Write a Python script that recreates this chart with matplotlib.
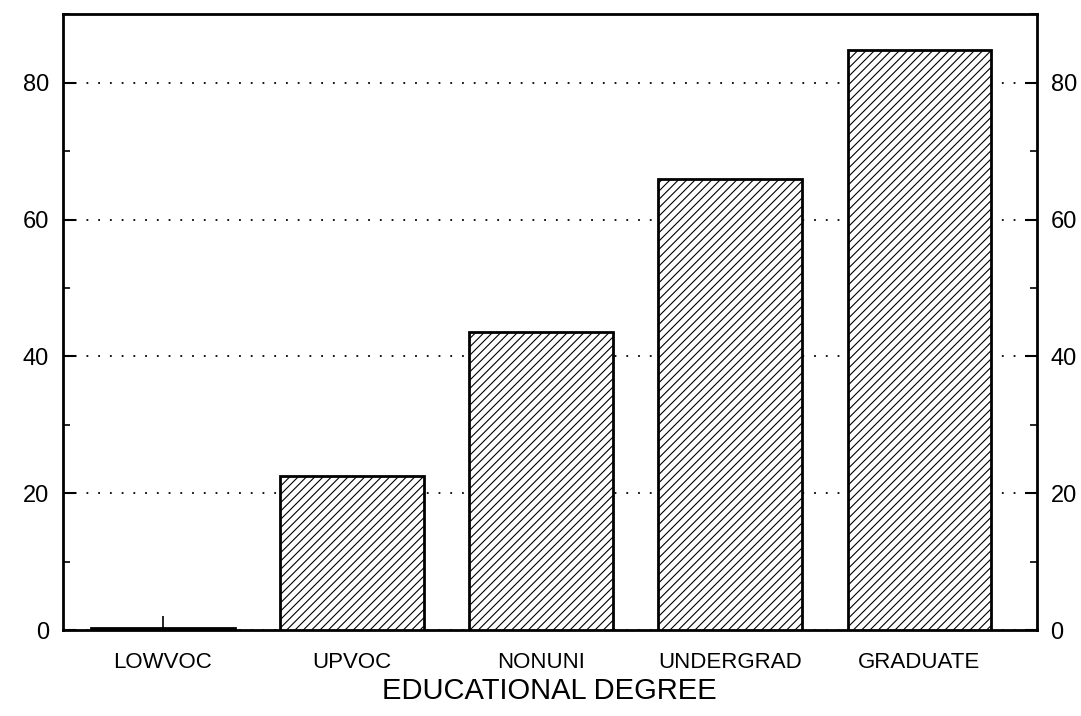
import numpy as np
import matplotlib.pyplot as plt
from matplotlib.ticker import MultipleLocator

categories = ["LOWVOC", "UPVOC", "NONUNI", "UNDERGRAD", "GRADUATE"]
values = [0.3, 22.5, 43.5, 66.0, 84.8]
yticks = [0, 20, 40, 60, 80]

plt.rcParams['font.family'] = ['Liberation Sans', 'DejaVu Sans']
plt.rcParams['hatch.linewidth'] = 0.8

fig = plt.figure(figsize=(10.81, 7.16), dpi=100)
ax = fig.add_axes([0.058, 0.12, 0.901, 0.86])

x = np.arange(len(categories))
ax.set_axisbelow(True)
ax.yaxis.grid(True, linestyle=(0, (1, 5.5)), color='black', linewidth=1.3)
ax.bar(x, values, width=0.76, facecolor='white', edgecolor='black',
       linewidth=2, hatch='////', zorder=3)

ax.set_xlim(-0.53, 4.62)
ax.set_ylim(0, 90)
ax.set_xticks(x)
ax.set_xticklabels(categories, fontsize=16)
ax.set_yticks(yticks)
ax.yaxis.set_minor_locator(MultipleLocator(10))
ax.tick_params(axis='x', direction='in', length=10, width=1.2, pad=16)
ax.tick_params(axis='y', which='major', direction='in', length=9, width=1.5,
               labelsize=17, right=True, labelright=True, pad=10)
ax.tick_params(axis='y', which='minor', direction='in', length=5, width=1.2,
               right=True)
for s in ax.spines.values():
    s.set_linewidth(2)

ax.set_xlabel("EDUCATIONAL DEGREE", fontsize=21, labelpad=3)

plt.savefig("out.png", dpi=100)
